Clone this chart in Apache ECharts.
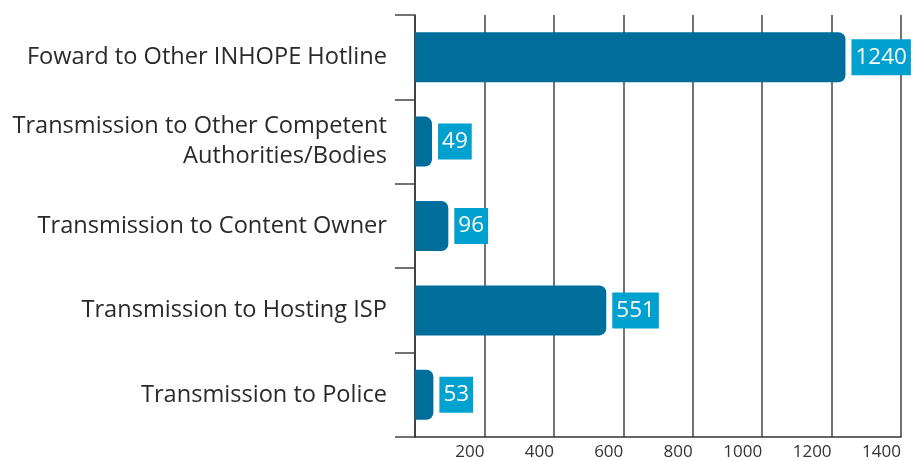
<!DOCTYPE html>
<html><head><meta charset="utf-8">
<script src="https://cdn.jsdelivr.net/npm/echarts@6/dist/echarts.min.js"></script>
<style>html,body{margin:0;padding:0;background:#fff}#c{width:913px;height:461px}</style>
</head><body><div id="c"></div>
<script>
var categories = ["Foward to Other INHOPE Hotline","Transmission to Other Competent\nAuthorities/Bodies","Transmission to Content Owner","Transmission to Hosting ISP","Transmission to Police"];
var values = [1240, 49, 96, 551, 53];
var xTicks = [0,200,400,600,800,1000,1200,1400];
var chart = echarts.init(document.getElementById('c'));
chart.setOption({
  animation:false,
  grid:{left:415,right:12,top:15,bottom:24,containLabel:false},
  xAxis:{type:'value',min:0,max:1400,interval:200,
    axisLine:{show:true,lineStyle:{color:'#333',width:1.5}},
    axisTick:{show:false},
    splitLine:{show:true,lineStyle:{color:'#444',width:1.5}},
    axisLabel:{showMinLabel:false,color:'#333',fontFamily:'Open Sans',fontSize:17,margin:7,align:'right',
      formatter:function(v){return String(v);}}},
  yAxis:{type:'category',data:categories,inverse:true,
    axisLine:{show:true,lineStyle:{color:'#333',width:1.5}},
    axisTick:{show:true,length:20,lineStyle:{color:'#444',width:1.5}},
    axisLabel:{color:'#2a2a2a',fontFamily:'Open Sans',fontSize:23.6,margin:28,lineHeight:30,align:'right'}},
  series:[{type:'bar',data:values,barWidth:50,
    itemStyle:{color:'#006e9b',borderRadius:[0,7,7,0]},
    label:{show:true,position:'right',distance:6,color:'#fff',fontFamily:'Open Sans',fontSize:22.5,
      backgroundColor:'#00a0cf',padding:[4,4,3,4],lineHeight:29,formatter:function(p){return String(p.value);}}}]
});
</script></body></html>
